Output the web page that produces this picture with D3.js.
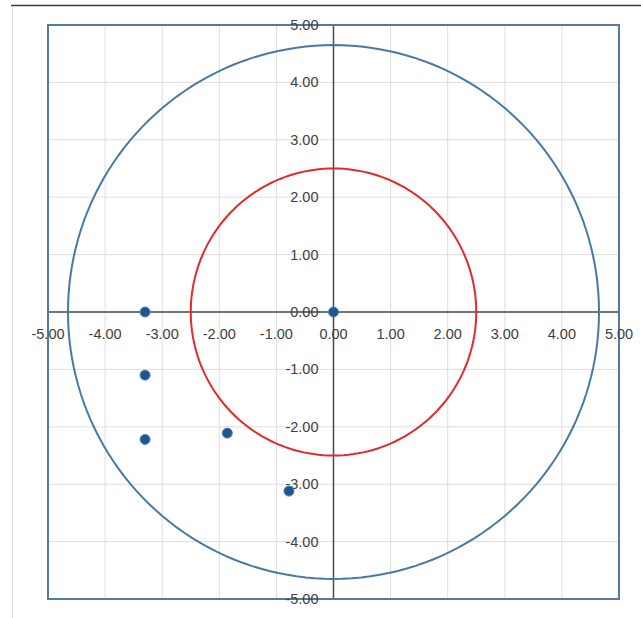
<!DOCTYPE html>
<html><head><meta charset="utf-8">
<script src="https://cdn.jsdelivr.net/npm/d3@7"></script>
<style>html,body{margin:0;padding:0;background:#fff;}svg{display:block;}</style>
</head><body>
<svg id="chart" width="641" height="618"></svg>
<script>
const pointX = [0, -3.3, -3.3, -3.3, -1.86, -0.78];
const pointY = [0, 0, -1.1, -2.22, -2.11, -3.12];
const circleRadii = [4.65, 2.5];
const circleColors = ["#4a78a4", "#e02b2b"];
const tickValues = [-5, -4, -3, -2, -1, 0, 1, 2, 3, 4, 5];

const svg = d3.select("#chart");
const x = d3.scaleLinear().domain([-5, 5]).range([48, 619]);
const y = d3.scaleLinear().domain([-5, 5]).range([599, 25]);

// outer frame lines (screenshot edge)
svg.append("line").attr("x1", 11).attr("x2", 641).attr("y1", 5.5).attr("y2", 5.5).attr("stroke", "#3a3a3a").attr("stroke-width", 1.5);
svg.append("line").attr("x1", 12.5).attr("x2", 12.5).attr("y1", 6).attr("y2", 618).attr("stroke", "#dcdcdc").attr("stroke-width", 1);

// gridlines
const grid = svg.append("g");
tickValues.forEach(t => {
  grid.append("line").attr("x1", x(t)).attr("x2", x(t)).attr("y1", y(5)).attr("y2", y(-5)).attr("stroke", "#dedede").attr("stroke-width", 1);
  grid.append("line").attr("y1", y(t)).attr("y2", y(t)).attr("x1", x(-5)).attr("x2", x(5)).attr("stroke", "#dedede").attr("stroke-width", 1);
});

// axes at zero
svg.append("line").attr("x1", x(-5)).attr("x2", x(5)).attr("y1", y(0)).attr("y2", y(0)).attr("stroke", "#4a4a4a").attr("stroke-width", 1.5);
svg.append("line").attr("x1", x(0)).attr("x2", x(0)).attr("y1", y(5)).attr("y2", y(-5)).attr("stroke", "#4a4a4a").attr("stroke-width", 1.5);

// circles
const circData = circleRadii.map((r, i) => ({r, c: circleColors[i]}));
const line = d3.line().x(d => x(d[0])).y(d => y(d[1]));
circData.forEach(cd => {
  const pts = d3.range(0, 361, 2).map(a => [cd.r * Math.cos(a * Math.PI / 180), cd.r * Math.sin(a * Math.PI / 180)]);
  svg.append("path").attr("d", line(pts)).attr("fill", "none").attr("stroke", cd.c).attr("stroke-width", 2);
});

// plot border
svg.append("rect").attr("x", x(-5)).attr("y", y(5)).attr("width", x(5) - x(-5)).attr("height", y(-5) - y(5))
  .attr("fill", "none").attr("stroke", "#557a9e").attr("stroke-width", 2);

// tick labels
const font = "'Liberation Sans', Arial, sans-serif";
svg.append("g").selectAll("text").data(tickValues).join("text")
  .attr("x", d => x(d)).attr("y", y(0) + 27).attr("text-anchor", "middle")
  .attr("font-family", font).attr("font-size", 14.5).attr("fill", "#404040")
  .text(d => d.toFixed(2));
svg.append("g").selectAll("text").data(tickValues).join("text")
  .attr("x", x(0) - 15).attr("y", d => y(d) + 5).attr("text-anchor", "end")
  .attr("font-family", font).attr("font-size", 14.5).attr("fill", "#404040")
  .text(d => d.toFixed(2));

// points
svg.append("g").selectAll("circle").data(pointX.map((v, i) => [v, pointY[i]])).join("circle")
  .attr("cx", d => x(d[0])).attr("cy", d => y(d[1])).attr("r", 5)
  .attr("fill", "#1f5590").attr("stroke", "#4f83b8").attr("stroke-width", 1);
</script>
</body></html>
